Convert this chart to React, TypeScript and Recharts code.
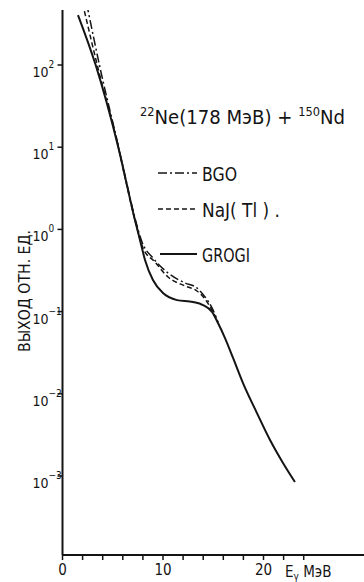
import React from 'react';
import { LineChart, Line, XAxis, YAxis, Customized } from 'recharts';

// GROGI (solid)
const grogiE = [1.54, 3.3, 5.52, 7.21, 7.71, 8.21, 9.0, 10.0, 11.39, 12.99, 13.98, 14.88, 15.47, 16.17, 16.97, 17.96, 19.35, 20.65, 21.94, 23.13];
const grogiY = [405, 100, 10.35, 1.30, 0.743, 0.425, 0.242, 0.168, 0.138, 0.131, 0.120, 0.099, 0.0726, 0.0477, 0.0273, 0.0135, 0.00583, 0.00274, 0.00144, 0.000845];

// BGO (dash-dot)
const bgoE = [2.4, 3.83, 5.42, 6.32, 7.31, 7.91, 9.0, 10.5, 12.19, 13.38, 14.18, 14.88, 15.47];
const bgoY = [562, 82, 12.2, 3.98, 1.23, 0.703, 0.449, 0.295, 0.223, 0.194, 0.151, 0.111, 0.0746];

// NaJ(Tl) (dashed)
const najE = [2.0, 3.63, 5.42, 6.32, 7.31, 8.01, 9.2, 10.5, 12.19, 13.38, 14.18, 14.88, 15.47];
const najY = [562, 82, 11.9, 3.78, 1.16, 0.594, 0.401, 0.264, 0.205, 0.178, 0.142, 0.104, 0.0746];

const yTicks = [1e-3, 1e-2, 1e-1, 1, 10, 100];
const yExponents = ['−3', '−2', '−1', '0', '1', '2'];
const xTicks = [0, 2, 4, 6, 8, 10, 12, 14, 16, 18, 20, 22, 24];
const xLabeled = [0, 10, 20];

const seriesNames = ['BGO', 'NaJ( Tl ) .', 'GROGI'];
const title = { pre: '22', a: 'Ne(178 МэВ) + ', pre2: '150', b: 'Nd' };
const yTitle = 'ВЫХОД  ОТН. ЕД.';
const xUnit = 'МэВ';

const mk = (es: number[], ys: number[]) => es.map((e, i) => ({ e, v: ys[i] }));
const grogi = mk(grogiE, grogiY);
const bgo = mk(bgoE, bgoY);
const naj = mk(najE, najY);

const FONT = "'DejaVu Sans Condensed', 'Roboto', sans-serif";
const INK = '#141414';

const YTick = (props: any) => {
  const { x, y, payload } = props;
  const idx = yTicks.findIndex((t) => Math.abs(Math.log10(t) - Math.log10(payload.value)) < 1e-6);
  const exp = yExponents[idx] ?? '';
  return (
    <text x={x - 16} y={y + 12} fontSize={14} fontFamily={FONT} fill={INK}>
      10<tspan fontSize={10} dy={-9}>{exp}</tspan>
    </text>
  );
};

const XTick = (props: any) => {
  const { x, y, payload } = props;
  if (!xLabeled.includes(payload.value)) return <g />;
  return (
    <text x={x} y={y + 8} textAnchor="middle" dominantBaseline="middle" fontSize={15} fontFamily={FONT} fill={INK}>{payload.value}</text>
  );
};

const legendStyles = [
  { dash: '9 3 2 3', w: 1.6, y: 173, x1: 158, len: 35 },
  { dash: '5 3', w: 1.6, y: 209, x1: 158, len: 78 },
  { dash: undefined as string | undefined, w: 2, y: 254, x1: 160, len: 48 },
];

const Decor = () => (
  <g>
    {seriesNames.map((n, i) => {
      const s = legendStyles[i];
      return (
        <g key={n}>
          <line x1={s.x1} x2={197} y1={s.y} y2={s.y} stroke={INK} strokeWidth={s.w} strokeDasharray={s.dash} />
          <text x={202} y={s.y + 2} textLength={s.len} lengthAdjust="spacingAndGlyphs" dominantBaseline="middle" fontSize={19} fontFamily={FONT} fill={INK}>{n}</text>
        </g>
      );
    })}
    <text x={140} y={124} textLength={205} lengthAdjust="spacingAndGlyphs" fontSize={19} fontFamily={FONT} fill={INK}>
      <tspan fontSize={12} dy={-8}>{title.pre}</tspan>
      <tspan dy={8}>{title.a}</tspan>
      <tspan fontSize={12} dy={-8}>{title.pre2}</tspan>
      <tspan dy={8}>{title.b}</tspan>
    </text>
    <text x={25} y={291} transform="rotate(-90 25 291)" textAnchor="middle" dominantBaseline="middle" textLength={122} lengthAdjust="spacingAndGlyphs" fontSize={15} fontFamily={FONT} fill={INK}>{yTitle}</text>
    <text x={285} y={577} fontSize={15} fontFamily={FONT} fill={INK}>
      E<tspan fontSize={10} dy={3}>γ</tspan><tspan dy={-3}> {xUnit}</tspan>
    </text>
  </g>
);

export default function App() {
  return (
    <div style={{ position: 'absolute', left: 0, top: 0, width: 364, height: 582, background: '#fff' }}>
      <LineChart width={364} height={582} margin={{ top: 10, right: 0, bottom: 0, left: 0 }}>
        <XAxis
          dataKey="e"
          type="number"
          domain={[0, 30]}
          ticks={xTicks}
          allowDataOverflow
          height={27}
          axisLine={{ stroke: INK, strokeWidth: 2 }}
          tickLine={{ stroke: INK, strokeWidth: 1.5 }}
          tickSize={5}
          tick={<XTick />}
          interval={0}
        />
        <YAxis
          dataKey="v"
          scale="log"
          domain={[1.094e-4, 466.7]}
          allowDataOverflow
          ticks={yTicks}
          width={62.5}
          axisLine={{ stroke: INK, strokeWidth: 2 }}
          tickLine={{ stroke: INK, strokeWidth: 1.5 }}
          tickSize={5}
          tickMargin={9}
          tick={<YTick />}
          interval={0}
        />
        <Line data={bgo} dataKey="v" name="BGO" type="monotone" stroke={INK} strokeWidth={1.5} strokeDasharray="9 3 2 3" dot={false} isAnimationActive={false} />
        <Line data={naj} dataKey="v" name="NaJ(Tl)" type="monotone" stroke={INK} strokeWidth={1.5} strokeDasharray="5 3" dot={false} isAnimationActive={false} />
        <Line data={grogi} dataKey="v" name="GROGI" type="monotone" stroke={INK} strokeWidth={2} dot={false} isAnimationActive={false} />
        <Customized component={<Decor />} />
      </LineChart>
    </div>
  );
}
